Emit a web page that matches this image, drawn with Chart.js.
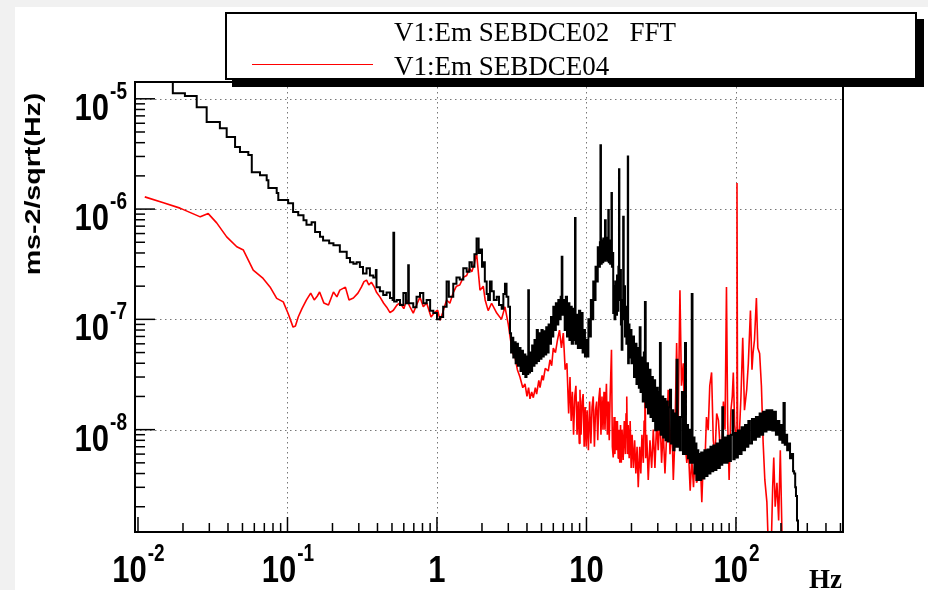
<!DOCTYPE html>
<html>
<head>
<meta charset="utf-8">
<script src="https://cdn.jsdelivr.net/npm/chart.js@4.4.1/dist/chart.umd.min.js"></script>
<style>
  html, body { margin: 0; padding: 0; background: #fff; }
  #wrap { position: relative; width: 928px; height: 590px; overflow: hidden; background: #fff; }
  #stripL { position: absolute; left: 0; top: 0; width: 15px; height: 590px; background: #f1f1f1; }
  #stripT { position: absolute; left: 0; top: 0; width: 928px; height: 7px; background: #f1f1f1; }
  canvas { position: absolute; left: 0; top: 0; }
  #legendBox { position: absolute; left: 225px; top: 12px; width: 688px; height: 64px;
    border: 2px solid #000; background: #fff; box-shadow: 7px 7px 0 #000; }
  .legText { position: absolute; font-family: "Liberation Serif", serif; font-size: 27px;
    line-height: 26px; white-space: pre; color: #000; }
  #legLine { position: absolute; left: 252px; top: 64px; width: 121px; height: 0; border-top: 1.5px solid #f00; }
</style>
</head>
<body>
<div id="wrap">
  <div id="stripL"></div>
  <div id="stripT"></div>
  <canvas id="psd" width="928" height="590"></canvas>
  <div id="legendBox"></div>
  <div class="legText" style="left:394px;top:19px;">V1:Em SEBDCE02   FFT</div>
  <div id="legLine"></div>
  <div class="legText" style="left:394px;top:53px;">V1:Em SEBDCE04</div>
</div>
<script>
/* ---- data: [frequency Hz, amplitude ms-2/sqrt(Hz)] ---- */

// black histogram, SEBDCE02 FFT
const sebdce02 = [
  [0.0098, 1.6e-5], [0.0171, 1.12e-5], [0.0206, 1.06e-5], [0.0247, 8.4e-6], [0.0288, 6.15e-6],
  [0.0353, 5.4e-6], [0.0392, 4.5e-6], [0.0446, 3.65e-6], [0.0481, 3.3e-6], [0.0547, 3.1e-6],
  [0.0577, 2.16e-6], [0.0655, 2.03e-6], [0.0726, 1.83e-6], [0.0745, 1.55e-6], [0.0847, 1.4e-6],
  [0.0868, 1.21e-6], [0.101, 1.13e-6], [0.109, 9.4e-7], [0.118, 8.8e-7], [0.128, 7.9e-7],
  [0.134, 7.2e-7], [0.145, 7.6e-7], [0.153, 6.2e-7], [0.165, 5.6e-7], [0.173, 5.2e-7],
  [0.19, 4.9e-7], [0.203, 4.7e-7], [0.224, 4.1e-7], [0.249, 3.6e-7], [0.262, 3.3e-7],
  [0.276, 3.2e-7], [0.29, 3.3e-7], [0.305, 2.98e-7], [0.32, 2.6e-7], [0.338, 2.9e-7],
  [0.356, 2.5e-7], [0.375, 2.4e-7], [0.39, 2.8e-7], [0.394, 1.96e-7], [0.415, 1.8e-7],
  [0.437, 1.66e-7], [0.46, 1.75e-7], [0.485, 1.56e-7], [0.505, 1.5e-7], [0.511, 6.1e-7],
  [0.517, 1.45e-7], [0.538, 1.5e-7], [0.566, 1.35e-7], [0.596, 1.73e-7], [0.62, 1.4e-7],
  [0.642, 3.1e-7], [0.648, 1.4e-7], [0.694, 1.29e-7], [0.73, 1.6e-7], [0.77, 1.73e-7],
  [0.81, 1.4e-7], [0.853, 1.5e-7], [0.9, 1.2e-7], [0.945, 1.14e-7], [1.0, 1.0e-7],
  [1.047, 1.05e-7], [1.1, 1.3e-7], [1.16, 2.2e-7], [1.2, 1.6e-7], [1.285, 2.1e-7],
  [1.35, 2.4e-7], [1.42, 2.3e-7], [1.5, 2.9e-7], [1.58, 2.7e-7], [1.65, 3.3e-7],
  [1.71, 3.0e-7], [1.78, 3.9e-7], [1.84, 5.4e-7], [1.9, 4.0e-7], [1.94, 4.3e-7],
  [2.0, 3.0e-7], [2.04, 3.3e-7], [2.09, 2.2e-7], [2.15, 1.7e-7], [2.2, 1.5e-7],
  [2.26, 2.2e-7], [2.32, 1.8e-7], [2.4, 1.5e-7], [2.51, 1.6e-7], [2.6, 1.35e-7],
  [2.71, 1.25e-7], [2.78, 1.7e-7], [2.85, 2.1e-7], [2.92, 1.6e-7], [3.0, 1.3e-7],
  [3.08, 7.5e-8], [3.13, 5.0e-8], [3.18, 6.8e-8], [3.24, 4.5e-8], [3.3, 6.2e-8],
  [3.36, 4.0e-8], [3.42, 6.0e-8], [3.48, 3.8e-8], [3.55, 5.5e-8], [3.62, 3.4e-8],
  [3.69, 5.2e-8], [3.76, 3.2e-8], [3.83, 4.8e-8], [3.9, 3.0e-8], [3.97, 4.6e-8],
  [4.04, 3.2e-8], [4.08, 1.84e-7], [4.12, 3.3e-8], [4.19, 5.0e-8], [4.26, 3.4e-8],
  [4.33, 5.8e-8], [4.41, 3.8e-8], [4.49, 6.5e-8], [4.57, 4.0e-8], [4.65, 8.0e-8],
  [4.73, 4.2e-8], [4.82, 7.5e-8], [4.91, 4.4e-8], [5.0, 8.0e-8], [5.09, 4.6e-8],
  [5.18, 7.8e-8], [5.28, 4.8e-8], [5.38, 8.5e-8], [5.48, 5.0e-8], [5.58, 9.0e-8],
  [5.68, 6.0e-8], [5.79, 1.05e-7], [5.9, 7.0e-8], [6.0, 1.3e-7], [6.12, 8.0e-8],
  [6.24, 1.4e-7], [6.36, 9.0e-8], [6.48, 1.5e-7], [6.6, 1.0e-7], [6.72, 1.6e-7],
  [6.83, 3.7e-7], [6.9, 1.1e-7], [7.02, 1.5e-7], [7.15, 8.0e-8], [7.28, 1.6e-7],
  [7.41, 7.0e-8], [7.55, 1.4e-7], [7.69, 6.5e-8], [7.83, 1.3e-7], [7.97, 6.0e-8],
  [8.12, 1.25e-7], [8.27, 6.5e-8], [8.38, 8.3e-7], [8.45, 6.0e-8], [8.6, 1.1e-7],
  [8.76, 5.5e-8], [8.92, 1.2e-7], [9.08, 5.5e-8], [9.25, 1.14e-7], [9.42, 5.0e-8],
  [9.6, 8.0e-8], [9.77, 4.6e-8], [9.95, 6.5e-8], [10.05, 4.6e-8], [10.3, 1.0e-7],
  [10.5, 7.0e-8], [10.7, 1.5e-7], [10.9, 1.0e-7], [11.1, 2.2e-7], [11.3, 1.5e-7],
  [11.5, 3.0e-7], [11.7, 2.2e-7], [11.9, 4.5e-7], [12.1, 3.0e-7], [12.3, 5.0e-7],
  [12.4, 3.8e-6], [12.5, 3.2e-7], [12.65, 5.2e-7], [12.8, 3.3e-7], [12.95, 5.4e-7],
  [13.1, 3.4e-7], [13.3, 7.9e-7], [13.45, 3.5e-7], [13.6, 5.5e-7], [13.75, 3.4e-7],
  [13.9, 5.3e-7], [14.0, 9.8e-7], [14.1, 3.3e-7], [14.25, 5.2e-7], [14.4, 3.2e-7],
  [14.55, 5.0e-7], [14.7, 1.4e-6], [14.8, 3.0e-7], [14.95, 4.0e-7], [15.1, 1.14e-7],
  [15.25, 2.0e-7], [15.4, 1.0e-7], [15.6, 2.2e-7], [15.8, 1.1e-7], [16.0, 2.5e-7],
  [16.2, 1.2e-7], [16.35, 3.0e-7], [16.5, 2.3e-6], [16.6, 1.5e-7], [16.8, 2.8e-7],
  [17.0, 9.0e-8], [17.2, 5.3e-8], [17.4, 1.5e-7], [17.6, 8.5e-7], [17.75, 1.0e-7],
  [17.9, 2.0e-7], [18.1, 7.0e-8], [18.3, 1.3e-7], [18.5, 6.0e-8], [18.7, 1.1e-7],
  [18.9, 3.0e-6], [19.0, 4.0e-8], [19.2, 9.0e-8], [19.4, 4.5e-8], [19.6, 8.0e-8],
  [20.0, 4.0e-8], [20.4, 7.0e-8], [20.8, 3.0e-8], [21.2, 6.0e-8], [21.6, 2.6e-8],
  [22.0, 5.5e-8], [22.4, 2.4e-8], [22.7, 8.5e-8], [23.0, 2.2e-8], [23.4, 4.5e-8],
  [23.8, 1.8e-8], [24.2, 5.0e-8], [24.6, 1.44e-7], [24.9, 1.6e-8], [25.3, 4.0e-8],
  [25.8, 1.4e-8], [26.3, 3.5e-8], [26.8, 1.3e-8], [27.3, 3.0e-8], [27.8, 1.2e-8],
  [28.3, 2.8e-8], [28.8, 9.9e-9], [29.4, 2.4e-8], [30.0, 1.0e-8], [30.5, 2.2e-8],
  [31.0, 6.1e-8], [31.4, 9.0e-9], [32.0, 2.0e-8], [32.6, 8.5e-9], [33.2, 1.9e-8],
  [33.8, 8.0e-9], [34.4, 1.8e-8], [35.0, 7.8e-9], [35.6, 1.6e-8], [36.2, 2.3e-8],
  [36.8, 7.5e-9], [37.5, 1.5e-8], [38.1, 6.5e-9], [38.8, 1.4e-8], [39.5, 7.0e-9],
  [40.1, 4.3e-8], [40.7, 7.0e-9], [41.4, 1.3e-8], [42.1, 6.5e-9], [42.8, 1.3e-8],
  [43.5, 2.2e-8], [44.2, 6.0e-9], [44.9, 1.2e-8], [45.6, 6.1e-8], [46.3, 6.0e-9],
  [47.0, 1.1e-8], [47.8, 5.5e-9], [48.6, 1.0e-8], [49.3, 5.0e-9], [50.0, 9.0e-9],
  [50.6, 1.7e-7], [51.2, 5.0e-9], [52.0, 8.5e-9], [52.8, 4.0e-9], [53.6, 7.5e-9],
  [54.4, 3.5e-9], [55.2, 6.5e-9], [56.0, 3.5e-9], [57.0, 6.0e-9], [57.8, 3.5e-9],
  [58.5, 6.2e-9], [60.0, 3.6e-9], [61.5, 6.5e-9], [63.0, 3.8e-9],
  [64.5, 6.6e-9], [66.0, 4.0e-9], [67.5, 7.0e-9], [69.0, 4.2e-9], [70.5, 7.2e-9],
  [72.0, 4.3e-9], [74.0, 7.5e-9], [76.0, 4.5e-9], [78.0, 8.0e-9], [80.0, 4.8e-9],
  [81.0, 1.6e-8], [82.0, 5.0e-9], [84.0, 8.5e-9], [86.0, 5.0e-9], [88.0, 8.8e-9],
  [90.0, 5.2e-9], [92.5, 9.0e-9], [95.0, 1.5e-8], [96.0, 5.4e-9], [98.0, 9.3e-9],
  [100, 5.6e-9], [103, 9.8e-9], [106, 6.0e-9], [109, 1.05e-8], [112, 6.5e-9],
  [115, 1.1e-8], [118, 7.0e-9], [121, 1.2e-8], [124, 7.5e-9], [128, 1.25e-8],
  [132, 8.1e-9], [136, 1.3e-8], [140, 8.6e-9], [144, 1.4e-8], [148, 9.0e-9],
  [152, 1.45e-8], [156, 9.6e-9], [160, 1.5e-8], [165, 1.0e-8], [170, 1.5e-8],
  [175, 9.8e-9], [180, 1.45e-8], [185, 9.0e-9], [190, 1.2e-8], [195, 8.1e-9],
  [200, 1.1e-8], [204, 7.6e-9], [208, 1.74e-8], [212, 7.3e-9], [216, 9.0e-9],
  [220, 6.5e-9], [225, 7.5e-9], [230, 5.5e-9], [236, 6.0e-9], [241, 4.2e-9],
  [245, 4.0e-9], [249, 3.0e-9], [252, 2.5e-9], [256, 1.5e-9], [260, 1.1e-9],
  [265, 5e-10]
];

// red graph, SEBDCE04
const sebdce04 = [
  [0.0111, 1.29e-6], [0.0148, 1.14e-6], [0.0191, 1.02e-6], [0.0261, 8.5e-7], [0.0295, 9.1e-7],
  [0.0336, 7.5e-7], [0.0392, 5.6e-7], [0.0458, 4.55e-7], [0.0507, 4.25e-7], [0.059, 2.8e-7],
  [0.0687, 2.35e-7], [0.0764, 1.97e-7], [0.0847, 1.55e-7], [0.0937, 1.44e-7], [0.101, 1.13e-7],
  [0.109, 8.5e-8], [0.113, 8.7e-8], [0.118, 1.05e-7], [0.125, 1.25e-7], [0.134, 1.5e-7],
  [0.143, 1.73e-7], [0.151, 1.5e-7], [0.158, 1.62e-7], [0.164, 1.77e-7], [0.175, 1.41e-7],
  [0.188, 1.35e-7], [0.203, 1.77e-7], [0.214, 1.6e-7], [0.224, 1.84e-7], [0.244, 1.96e-7],
  [0.258, 1.5e-7], [0.276, 1.56e-7], [0.296, 1.73e-7], [0.312, 1.96e-7], [0.325, 2.2e-7],
  [0.338, 2.27e-7], [0.35, 2.05e-7], [0.364, 2.17e-7], [0.381, 1.96e-7], [0.395, 1.75e-7],
  [0.416, 1.59e-7], [0.44, 1.4e-7], [0.461, 1.29e-7], [0.485, 1.15e-7], [0.511, 1.21e-7],
  [0.54, 1.35e-7], [0.566, 1.41e-7], [0.6, 1.25e-7], [0.627, 1.5e-7], [0.66, 1.3e-7],
  [0.694, 1.14e-7], [0.73, 1.35e-7], [0.77, 1.59e-7], [0.81, 1.3e-7], [0.853, 1.41e-7],
  [0.913, 1.05e-7], [0.96, 1.15e-7], [1.01, 1.21e-7], [1.05, 9.8e-8], [1.09, 1.14e-7],
  [1.16, 1.5e-7], [1.22, 1.4e-7], [1.285, 1.75e-7], [1.35, 2.0e-7], [1.42, 2.05e-7],
  [1.5, 2.4e-7], [1.58, 2.5e-7], [1.65, 2.9e-7], [1.71, 2.7e-7], [1.78, 3.2e-7],
  [1.84, 4.0e-7], [1.9, 2.5e-7], [1.94, 1.84e-7], [2.04, 2.0e-7], [2.1, 1.5e-7],
  [2.2, 1.2e-7], [2.32, 1.4e-7], [2.51, 1.14e-7], [2.7, 1.0e-7], [2.85, 1.3e-7],
  [3.0, 9.0e-8], [3.08, 7.0e-8], [3.2, 5.0e-8], [3.33, 4.5e-8], [3.45, 3.5e-8],
  [3.59, 3.0e-8], [3.75, 2.4e-8], [3.88, 2.6e-8], [4.0, 2.0e-8], [4.1, 2.4e-8],
  [4.19, 1.9e-8], [4.3, 2.2e-8], [4.41, 1.95e-8], [4.55, 2.4e-8], [4.64, 2.1e-8],
  [4.8, 2.8e-8], [4.89, 2.4e-8], [5.05, 3.1e-8], [5.14, 2.8e-8], [5.3, 3.6e-8],
  [5.55, 3.4e-8], [5.7, 4.3e-8], [5.85, 3.8e-8], [6.0, 5.5e-8], [6.2, 5.0e-8],
  [6.4, 6.5e-8], [6.6, 8.0e-8], [6.8, 5.5e-8], [7.0, 7.5e-8], [7.2, 3.5e-8],
  [7.4, 4.0e-8], [7.6, 1.4e-8], [7.76, 3.0e-8], [7.9, 1.2e-8], [8.05, 2.2e-8],
  [8.2, 9.0e-9], [8.35, 2.0e-8], [8.5, 2.5e-8], [8.65, 9.0e-9], [8.8, 1.8e-8],
  [8.95, 7.5e-9], [9.05, 2.3e-8], [9.2, 9.0e-9], [9.35, 1.8e-8], [9.5, 2.1e-8],
  [9.65, 7.0e-9], [9.8, 1.6e-8], [9.95, 7.0e-9], [10.1, 1.5e-8], [10.3, 6.5e-9],
  [10.5, 1.8e-8], [10.7, 7.5e-9], [10.9, 1.6e-8], [11.1, 2.0e-8], [11.3, 7.0e-9],
  [11.5, 1.5e-8], [11.7, 1.8e-8], [11.9, 8.0e-9], [12.1, 1.9e-8], [12.3, 2.4e-8],
  [12.5, 9.0e-9], [12.7, 2.0e-8], [12.9, 1.0e-8], [13.1, 2.2e-8], [13.3, 1.0e-8],
  [13.5, 2.0e-8], [13.6, 2.6e-8], [13.8, 9.0e-9], [14.0, 1.8e-8], [14.2, 8.0e-9],
  [14.4, 2.0e-8], [14.7, 5.3e-8], [14.9, 7.0e-9], [15.1, 5.6e-9], [15.3, 1.3e-8],
  [15.5, 6.0e-9], [15.7, 1.2e-8], [15.9, 6.5e-9], [16.1, 1.2e-8], [16.3, 5.5e-9],
  [16.5, 1.0e-8], [16.7, 5.0e-9], [16.9, 1.1e-8], [17.1, 5.0e-9], [17.3, 1.0e-8],
  [17.6, 5.3e-9], [17.9, 1.2e-8], [18.2, 6.0e-9], [18.4, 1.4e-8], [18.6, 2.0e-8],
  [18.8, 6.0e-9], [19.0, 1.1e-8], [19.3, 5.5e-9], [19.6, 1.2e-8], [19.9, 4.5e-9],
  [20.2, 9.0e-9], [20.6, 4.5e-9], [21.0, 8.0e-9], [21.4, 4.0e-9], [21.8, 7.0e-9],
  [22.2, 3.0e-9], [22.7, 7.0e-9], [23.1, 4.0e-9], [23.5, 9.0e-9], [24.0, 5.0e-9],
  [24.3, 1.2e-8], [24.6, 8.0e-8], [24.9, 5.5e-9], [25.3, 9.0e-9], [25.9, 3.5e-9],
  [26.6, 8.0e-9], [27.3, 4.5e-9], [28.0, 1.0e-8],
  [28.7, 4.5e-9], [29.5, 1.2e-8], [30.2, 6.5e-9], [31.0, 1.4e-8], [31.8, 5.0e-9],
  [32.6, 1.0e-8], [33.5, 4.0e-9], [34.4, 9.0e-9], [35.2, 2.3e-8], [36.2, 6.0e-9],
  [37.2, 1.2e-8], [38.1, 3.5e-9], [39.0, 8.0e-9], [40.1, 6.1e-8], [41.0, 1.0e-8],
  [42.2, 1.84e-7], [43.2, 2.5e-8], [44.4, 4.0e-8], [45.5, 8.0e-9], [46.9, 5.0e-9],
  [48.0, 7.0e-9], [49.4, 2.8e-9], [50.6, 5.5e-9], [52.0, 3.0e-9], [53.3, 6.0e-9],
  [54.5, 3.3e-9], [56.1, 3.7e-9], [57.5, 6.0e-9], [59.1, 2.2e-9], [60.5, 5.5e-9],
  [62.0, 5.0e-9], [63.5, 1.3e-8], [65.2, 9.9e-9], [66.8, 2.5e-8], [68.7, 3.3e-8],
  [70.5, 8.0e-9], [72.4, 5.8e-9], [74.3, 1.4e-8], [76.3, 1.22e-8], [78.3, 7.0e-9],
  [80.4, 5.8e-9], [82.4, 1.8e-8], [84.5, 1.0e-8], [86.4, 1.97e-7], [88.0, 1.2e-8],
  [90.0, 3.5e-9], [92.5, 1.5e-8], [94.5, 2.0e-8], [96.0, 3.3e-8], [98.0, 1.1e-8],
  [100.5, 8.0e-9], [101.6, 1.72e-6], [102.5, 1.0e-8], [105, 8.1e-9], [108, 2.0e-8],
  [111, 6.8e-8], [114, 1.5e-8], [118, 2.3e-8], [121, 4.0e-8], [125, 1.2e-7],
  [128, 3.5e-8], [130, 4.9e-8], [133, 6.5e-8], [137, 1.56e-7], [140, 5.5e-8],
  [144, 4.9e-8], [148, 2.5e-8], [152, 7.6e-9], [156, 3.5e-9], [161, 2.2e-9],
  [165, 8e-10], [172, 8e-10], [176, 3.0e-9], [179, 5.6e-9], [183, 2.0e-9],
  [188, 3.3e-9], [193, 1.5e-9], [198, 6.5e-9], [203, 1.2e-9], [208, 8e-10]
];

// axis ranges and decade labels
const xRange = [0.00955, 520];
const yRange = [1.18e-9, 1.42e-5];
const xLabelValues = [0.01, 0.1, 1, 10, 100];
const xLabelText = [["10", "-2"], ["10", "-1"], ["1", ""], ["10", ""], ["10", "2"]];
const yLabelValues = [1e-5, 1e-6, 1e-7, 1e-8];
const yLabelText = [["10", "-5"], ["10", "-6"], ["10", "-7"], ["10", "-8"]];
const xTitle = "Hz";
const yTitle = "ms-2/sqrt(Hz)";

/* ROOT-like frame: dotted decade grid, inward ticks, 10^n labels */
function minorValues(min, max) {
  const out = [];
  for (let n = -10; n <= 4; n++) {
    for (let k = 1; k <= 9; k++) {
      const v = k * Math.pow(10, n);
      if (v >= min && v <= max) out.push({ v, major: k === 1 });
    }
  }
  return out;
}

function drawPower(ctx, base, exp, x, baseline, align) {
  const big = 'bold 31px "Liberation Sans", Arial, sans-serif';
  const small = 'bold 19px "Liberation Sans", Arial, sans-serif';
  ctx.font = big;
  const wb = ctx.measureText(base).width;
  ctx.font = small;
  const we = exp ? ctx.measureText(exp).width : 0;
  const x0 = align === "right" ? x - wb - we : x - (wb + we) / 2;
  ctx.save();
  ctx.translate(x0, baseline);
  ctx.scale(1, 1.22);
  ctx.textAlign = "left";
  ctx.textBaseline = "alphabetic";
  ctx.fillStyle = "#000";
  ctx.font = big;
  ctx.fillText(base, 0, 0);
  if (exp) {
    ctx.font = small;
    ctx.fillText(exp, wb + 1, -21 / 1.22);
  }
  ctx.restore();
}

const rootFrame = {
  id: "rootFrame",
  beforeDatasetsDraw(chart) {
    const { ctx, chartArea: a, scales: { x, y } } = chart;
    ctx.save();
    ctx.strokeStyle = "#777";
    ctx.lineWidth = 1;
    ctx.setLineDash([1.5, 3.5]);
    xLabelValues.slice(1).forEach(v => {
      const px = Math.round(x.getPixelForValue(v)) + 0.5;
      ctx.beginPath(); ctx.moveTo(px, a.top); ctx.lineTo(px, a.bottom); ctx.stroke();
    });
    yLabelValues.forEach(v => {
      const py = Math.round(y.getPixelForValue(v)) + 0.5;
      ctx.beginPath(); ctx.moveTo(a.left, py); ctx.lineTo(a.right, py); ctx.stroke();
    });
    ctx.restore();
  },
  afterDatasetsDraw(chart) {
    const { ctx, chartArea: a, scales: { x, y } } = chart;
    ctx.save();
    ctx.strokeStyle = "#000";
    ctx.lineWidth = 2;
    ctx.strokeRect(a.left, a.top, a.right - a.left, a.bottom - a.top);

    ctx.lineWidth = 1.5;
    minorValues(xRange[0], xRange[1]).forEach(t => {
      const px = x.getPixelForValue(t.v);
      ctx.beginPath(); ctx.moveTo(px, a.bottom); ctx.lineTo(px, a.bottom - (t.major ? 15 : 9)); ctx.stroke();
    });
    minorValues(yRange[0], yRange[1]).forEach(t => {
      const py = y.getPixelForValue(t.v);
      ctx.beginPath(); ctx.moveTo(a.left, py); ctx.lineTo(a.left + (t.major ? 20 : 10), py); ctx.stroke();
    });

    xLabelValues.forEach((v, i) => {
      drawPower(ctx, xLabelText[i][0], xLabelText[i][1], x.getPixelForValue(v), 582, "center");
    });
    yLabelValues.forEach((v, i) => {
      drawPower(ctx, yLabelText[i][0], yLabelText[i][1], 126, y.getPixelForValue(v) + 21, "right");
    });

    ctx.fillStyle = "#000";
    ctx.font = 'bold 27px "Liberation Serif", serif';
    ctx.textAlign = "right";
    ctx.textBaseline = "alphabetic";
    ctx.fillText(xTitle, 842, 588);

    ctx.translate(34, 184);
    ctx.rotate(-Math.PI / 2);
    ctx.scale(1.3, 1);
    ctx.font = 'bold 22px "Liberation Sans", Arial, sans-serif';
    ctx.textAlign = "center";
    ctx.textBaseline = "middle";
    ctx.fillText(yTitle, 0, 0);
    ctx.restore();
  }
};

new Chart(document.getElementById("psd"), {
  type: "line",
  data: {
    datasets: [
      {
        label: "V1:Em SEBDCE02   FFT",
        data: sebdce02.map(([f, v]) => ({ x: f, y: v })),
        borderColor: "#000",
        borderWidth: 2,
        stepped: true,
        pointRadius: 0,
        fill: false,
        clip: 0
      },
      {
        label: "V1:Em SEBDCE04",
        data: sebdce04.map(([f, v]) => ({ x: f, y: v })),
        borderColor: "#ff0000",
        borderWidth: 1.6,
        borderJoinStyle: "bevel",
        tension: 0,
        pointRadius: 0,
        fill: false,
        clip: 0
      }
    ]
  },
  options: {
    responsive: false,
    animation: false,
    devicePixelRatio: 1,
    layout: { padding: { left: 135, right: 85, top: 82, bottom: 58 } },
    scales: {
      x: { type: "logarithmic", min: xRange[0], max: xRange[1], display: false },
      y: { type: "logarithmic", min: yRange[0], max: yRange[1], display: false }
    },
    plugins: { legend: { display: false }, tooltip: { enabled: false } }
  },
  plugins: [rootFrame]
});
</script>
</body>
</html>
